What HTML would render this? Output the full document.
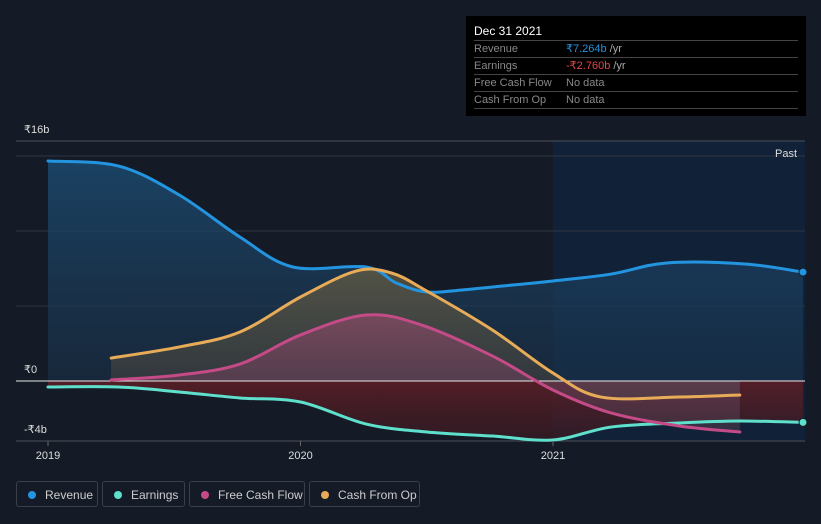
<!DOCTYPE html>
<html><head><meta charset="utf-8">
<style>
body{margin:0;background:#151b26;font-family:"Liberation Sans",sans-serif;}
#wrap{position:relative;width:821px;height:524px;overflow:hidden;background:#151b26;}
svg{position:absolute;left:0;top:0;}
.tt{position:absolute;left:466px;top:16px;width:340px;height:100px;background:#000;color:#fff;font-size:11px;}
.tt .row{position:absolute;left:8px;width:324px;height:16px;border-top:1px solid #444;color:#888;line-height:17px;}
.tt .v{position:absolute;left:92px;}
.leg{position:absolute;top:481px;height:26px;border:1px solid #3a3f4a;border-radius:3px;color:#ccc;font-size:12px;line-height:26px;box-sizing:border-box;}
.leg i{position:absolute;left:11px;top:9px;width:8px;height:8px;border-radius:50%;}
.leg span{position:absolute;left:28px;}
</style></head><body>
<div id="wrap">
<svg id="chart" width="821" height="524"></svg>
<div class="tt">
<div style="position:absolute;left:8px;top:8px;font-size:12px;">Dec 31 2021</div>
<div class="row" style="top:24px">Revenue<span class="v"><span style="color:#2394df">₹7.264b</span> <span style="color:#aaa">/yr</span></span></div>
<div class="row" style="top:41px">Earnings<span class="v"><span style="color:#e64545">-₹2.760b</span> <span style="color:#aaa">/yr</span></span></div>
<div class="row" style="top:58px">Free Cash Flow<span class="v">No data</span></div>
<div class="row" style="top:75px;border-bottom:1px solid #444">Cash From Op<span class="v">No data</span></div>
</div>
<div class="leg" style="left:16px;width:82px"><i style="background:#2394df"></i><span>Revenue</span></div>
<div class="leg" style="left:102px;width:83px"><i style="background:#5ee0cc"></i><span>Earnings</span></div>
<div class="leg" style="left:189px;width:116px"><i style="background:#c44b87"></i><span>Free Cash Flow</span></div>
<div class="leg" style="left:309px;width:111px"><i style="background:#e8ac59"></i><span>Cash From Op</span></div>
</div>
<script>
const revT=[2019.0,2019.28,2019.52,2019.76,2019.97,2020.26,2020.38,2020.5,2020.64,2020.8,2021.0,2021.23,2021.45,2021.76,2021.99];
const revV=[14.67,14.33,12.4,9.6,7.6,7.6,6.53,5.93,6.07,6.33,6.67,7.13,7.87,7.8,7.26];
const earnT=[2019.0,2019.28,2019.52,2019.76,2020.0,2020.26,2020.5,2020.76,2021.0,2021.23,2021.5,2021.74,2021.99];
const earnV=[-0.4,-0.4,-0.73,-1.13,-1.4,-2.87,-3.4,-3.67,-3.93,-3.07,-2.8,-2.67,-2.76];
const fcfT=[2019.25,2019.52,2019.76,2020.0,2020.26,2020.48,2020.76,2021.0,2021.23,2021.5,2021.74];
const fcfV=[0.07,0.4,1.13,3.07,4.4,3.73,1.67,-0.6,-2.13,-3.0,-3.4];
const cfoT=[2019.25,2019.52,2019.76,2020.0,2020.22,2020.36,2020.5,2020.76,2021.0,2021.19,2021.5,2021.74];
const cfoV=[1.53,2.27,3.27,5.6,7.33,7.2,6.0,3.4,0.53,-1.07,-1.07,-0.93];
const yTicks=[0,5,10,15,16];
const yLabels=[{v:16,t:"₹16b"},{v:0,t:"₹0"},{v:-4,t:"-₹4b"}];
const xTicks=[2019,2020,2021];

const NS="http://www.w3.org/2000/svg";
const svg=document.getElementById('chart');
const X=t=>48+(t-2019)*252.5;
const Y=v=>381-v*15;
function mk(tag,at,parent){const e=document.createElementNS(NS,tag);for(const k in at)e.setAttribute(k,at[k]);(parent||svg).appendChild(e);return e;}
function path(T,V){const p=T.map((t,i)=>[X(t),Y(V[i])]);let d=`M${p[0][0]},${p[0][1]}`;
for(let i=0;i<p.length-1;i++){const p0=p[Math.max(0,i-1)],p1=p[i],p2=p[i+1],p3=p[Math.min(p.length-1,i+2)];
const c1=[p1[0]+(p2[0]-p0[0])/6,p1[1]+(p2[1]-p0[1])/6],c2=[p2[0]-(p3[0]-p1[0])/6,p2[1]-(p3[1]-p1[1])/6];
d+=` C${c1[0]},${c1[1]} ${c2[0]},${c2[1]} ${p2[0]},${p2[1]}`;}return d;}
const defs=mk('defs',{});
defs.innerHTML=`<linearGradient id="gRev" x1="0" y1="0" x2="0" y2="1"><stop offset="0" stop-color="#1b4c73" stop-opacity="0.8"/><stop offset="1" stop-color="#1b3550" stop-opacity="0.5"/></linearGradient>
<linearGradient id="gCfo" x1="0" y1="0" x2="0" y2="1"><stop offset="0" stop-color="#6b6042" stop-opacity="0.7"/><stop offset="1" stop-color="#3a3d40" stop-opacity="0.6"/></linearGradient>
<linearGradient id="gFcf" x1="0" y1="0" x2="0" y2="1"><stop offset="0" stop-color="#8a4a66" stop-opacity="0.7"/><stop offset="1" stop-color="#4a3848" stop-opacity="0.6"/></linearGradient>
<linearGradient id="gNeg" x1="0" y1="0" x2="0" y2="1"><stop offset="0" stop-color="#5a1e26" stop-opacity="0.9"/><stop offset="1" stop-color="#3a1a22" stop-opacity="0.7"/></linearGradient>`;
mk('rect',{x:553,y:141,width:252,height:300,fill:'#0f2540',opacity:0.7,});
yTicks.forEach(v=>{const g=mk('line',{x1:16,x2:805,y1:Y(v),y2:Y(v),stroke:v==16?'#4a4f5a':'#2e3440','stroke-width':1});
});
mk('line',{x1:16,x2:805,y1:Y(-4),y2:Y(-4),stroke:'#4a4f5a',});
function area(T,V,fill,name){const d=path(T,V)+` L${X(T[T.length-1])},${Y(0)} L${X(T[0])},${Y(0)} Z`;const e=mk('path',{d:d,fill:fill});
}
area(revT,revV,'url(#gRev)','revenue-area');
area(earnT,earnV,'url(#gNeg)','earnings-area');
area(cfoT,cfoV,'url(#gCfo)','cfo-area');
area(fcfT,fcfV,'url(#gFcf)','fcf-area');
mk('line',{x1:16,x2:805,y1:Y(0),y2:Y(0),stroke:'#e8e8e8','stroke-width':1,});
function line(T,V,c,name){const e=mk('path',{d:path(T,V),fill:'none',stroke:c,'stroke-width':3,'stroke-linecap':'round'});
}
line(earnT,earnV,'#5ee0cc','earnings-line');
line(revT,revV,'#2394df','revenue-line');
line(fcfT,fcfV,'#c44b87','fcf-line');
line(cfoT,cfoV,'#e8ac59','cfo-line');
[[revT,revV,'#2394df','revenue-end-dot'],[earnT,earnV,'#5ee0cc','earnings-end-dot']].forEach(a=>{const n=a[0].length-1;
const c=mk('circle',{cx:X(a[0][n]),cy:Y(a[1][n]),r:4,fill:a[2],stroke:'#151b26','stroke-width':1});
});
yLabels.forEach(o=>{const t=mk('text',{x:24,y:Y(o.v)-8,fill:'#ddd','font-size':11});t.textContent=o.t;
});
xTicks.forEach(v=>{mk('line',{x1:X(v),x2:X(v),y1:441,y2:446,stroke:'#666'});
const t=mk('text',{x:X(v),y:459,fill:'#ddd','font-size':11,'text-anchor':'middle'});t.textContent=v;
});
const p=mk('text',{x:797,y:157,fill:'#ddd','font-size':11,'text-anchor':'end',});p.textContent='Past';
</script>
</body></html>
